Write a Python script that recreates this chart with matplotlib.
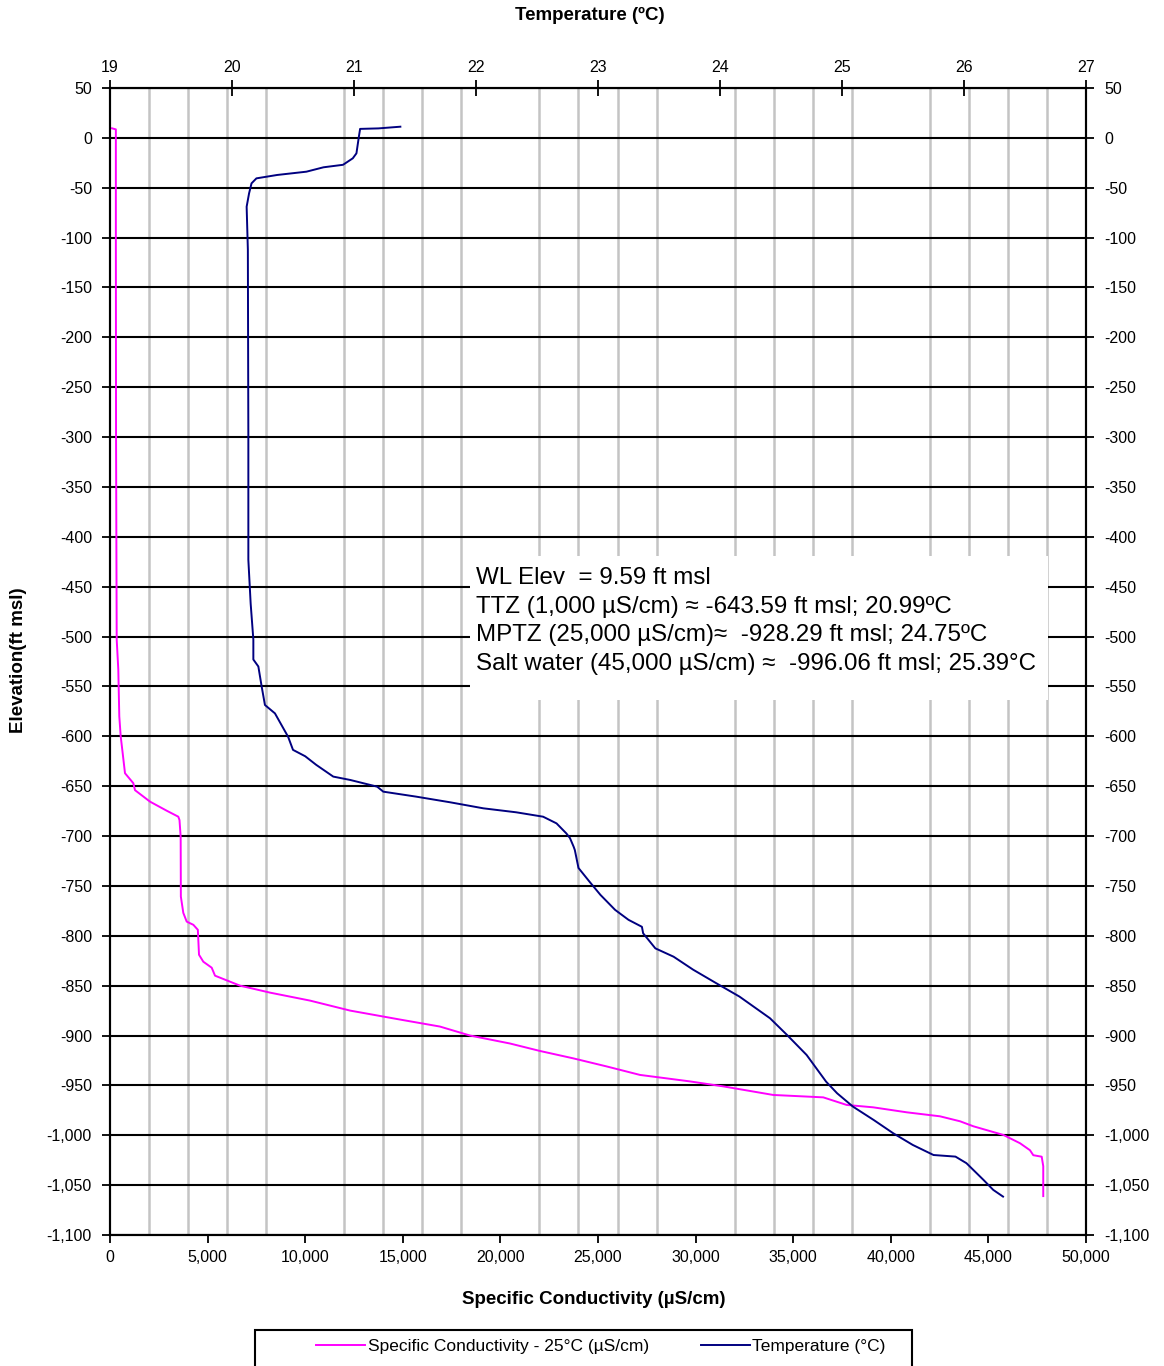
import numpy as np
import matplotlib
matplotlib.use("Agg")
import matplotlib.pyplot as plt
from matplotlib.ticker import MultipleLocator, FuncFormatter
from matplotlib.patches import Rectangle

plt.rcParams['font.family'] = ['Liberation Sans', 'DejaVu Sans']

# specific conductivity profile (uS/cm vs ft msl)
cond_elev = np.array([9.6, 8.5, -100, -300, -503, -533, -580, -600, -617, -637, -647, -654,
                      -665.5, -674.6, -680.6, -684, -700.6, -760.7, -777, -785.8, -789, -794,
                      -819, -826, -832, -840, -850, -857, -865, -875, -884, -891, -900, -908,
                      -915.5, -922.9, -931, -939.5, -946, -951, -959.6, -962, -969.6, -972,
                      -977, -981, -986, -991, -999.7, -1008, -1015, -1020, -1021.5, -1031, -1061])
cond_val = np.array([100, 300, 300, 310, 343, 425, 476, 548, 650, 768, 1194, 1281,
                     2049, 2905, 3499, 3560, 3620, 3630, 3755, 3930, 4270, 4500,
                     4560, 4780, 5210, 5380, 6660, 8200, 10250, 12300, 14860, 16900, 18440, 20490,
                     22030, 23735, 25445, 27150, 29710, 31420, 33980, 36540, 37740, 39100,
                     40820, 42520, 43550, 44230, 45770, 46620, 47130, 47300, 47730, 47810, 47810])

# temperature profile (deg C vs ft msl)
temp_elev = np.array([11.2, 9.5, 9.0, 1.2, -15.5, -20.5, -27, -29.5, -33.9, -37.2, -40.6, -45.6,
                      -55.6, -69, -112, -300, -423, -467, -503, -523, -530, -550, -568.6, -577,
                      -600.5, -613.6, -620, -628.6, -640.4, -643.8, -650.5, -655.5, -660.5, -666.2,
                      -672.2, -676.2, -680.6, -687.3, -697.3, -702, -710.6, -714, -732, -745.7,
                      -759, -774, -784, -791, -797.5, -812.6, -821, -834, -847.6, -861, -882.7,
                      -899.5, -919.5, -946.3, -957.9, -971.3, -984.7, -998, -1009.7, -1019.8,
                      -1021.4, -1028, -1044.8, -1054.8, -1061.5])
temp_val = np.array([21.38, 21.20, 21.05, 21.04, 21.02, 20.99, 20.91, 20.75, 20.61, 20.37, 20.20, 20.16,
                     20.14, 20.12, 20.13, 20.134, 20.134, 20.153, 20.175, 20.175, 20.216, 20.243, 20.27, 20.352,
                     20.46, 20.50, 20.60, 20.69, 20.83, 20.97, 21.19, 21.24, 21.51, 21.79,
                     22.06, 22.33, 22.55, 22.66, 22.74, 22.77, 22.80, 22.81, 22.84, 22.93,
                     23.02, 23.14, 23.25, 23.36, 23.37, 23.47, 23.62, 23.78, 23.97, 24.16, 24.41,
                     24.55, 24.71, 24.87, 24.96, 25.09, 25.26, 25.42, 25.58, 25.75,
                     25.93, 26.02, 26.16, 26.24, 26.32])

notes = ["WL Elev  = 9.59 ft msl",
         "TTZ (1,000 \u00b5S/cm) \u2248 -643.59 ft msl; 20.99\u00baC",
         "MPTZ (25,000 \u00b5S/cm)\u2248  -928.29 ft msl; 24.75\u00baC",
         "Salt water (45,000 \u00b5S/cm) \u2248  -996.06 ft msl; 25.39\u00b0C"]

comma = FuncFormatter(lambda v, p: f"{v:,.0f}")
TICK_FS = 11.5
TITLE_FS = 13.5

fig = plt.figure(figsize=(11.64, 13.66), dpi=100)
ax = fig.add_axes([110/1164, 1 - 1235/1366, 976/1164, 1147/1366])

ax.set_xlim(0, 50000)
ax.set_ylim(-1100, 50)
ax.xaxis.set_major_locator(MultipleLocator(5000))
ax.xaxis.set_minor_locator(MultipleLocator(2000))
ax.yaxis.set_major_locator(MultipleLocator(50))
ax.xaxis.set_major_formatter(comma)
ax.yaxis.set_major_formatter(comma)
ax.set_axisbelow(True)
ax.grid(which='minor', axis='x', color='#c4c4c4', lw=1.8)
ax.grid(which='major', axis='y', color='black', lw=1.5)
ax.tick_params(axis='x', which='major', direction='out', length=6, width=1.3, labelsize=TICK_FS, pad=5)
ax.tick_params(axis='x', which='minor', length=0)
ax.tick_params(axis='y', direction='inout', length=12, width=1.3, labelsize=TICK_FS, pad=7,
               left=True, right=True, labelleft=True, labelright=True)
for s in ax.spines.values():
    s.set_linewidth(1.5)

ax.plot(cond_val, cond_elev, color='#ff00ff', lw=1.4, zorder=3,
        label='Specific Conductivity - 25\u00b0C (\u00b5S/cm)')

ax2 = ax.twiny()
ax2.set_xlim(19, 27)
ax2.xaxis.set_major_locator(MultipleLocator(1))
ax2.tick_params(axis='x', direction='inout', length=12, width=1.3, labelsize=TICK_FS, pad=3)
ax2.plot(temp_val, temp_elev, color='#000080', lw=1.4, zorder=3, label='Temperature (\u00b0C)')
for s in ax2.spines.values():
    s.set_linewidth(1.5)

# annotation box (white, covers grid)
ax.add_patch(Rectangle((0.369, 0.4664), 0.592, 0.1256, transform=ax.transAxes,
                       facecolor='white', edgecolor='none', zorder=1))
for i, line in enumerate(notes):
    ax.text(0.375, 0.5727 - i * 0.0249, line, transform=ax.transAxes, fontsize=17.4,
            va='center', ha='left', zorder=4)

fig.text(590/1164, 1 - 15/1366, 'Temperature (\u00baC)', ha='center', va='center',
         fontsize=TITLE_FS, fontweight='bold')
fig.text(594/1164, 1 - 1300/1366, 'Specific Conductivity (\u00b5S/cm)', ha='center', va='center',
         fontsize=TITLE_FS, fontweight='bold')
fig.text(19/1164, 1 - 660/1366, 'Elevation(ft msl)', ha='center', va='center', rotation=90,
         fontsize=TITLE_FS, fontweight='bold')

h1, l1 = ax.get_legend_handles_labels()
h2, l2 = ax2.get_legend_handles_labels()
leg = fig.legend(h1 + h2, l1 + l2, loc='upper center', bbox_to_anchor=(601/1164, 1 - 1339/1366),
                 ncol=2, frameon=False, fontsize=12.5, handlelength=2.8, handletextpad=0.15,
                 columnspacing=3.0, borderpad=0, borderaxespad=0)
# legend frame runs off the bottom of the figure, as in the original
fig.patches.append(Rectangle((255/1164, -0.02), 657/1164, 36/1366 + 0.02, transform=fig.transFigure,
                             fill=False, edgecolor='black', lw=1.5))

fig.savefig('out.png', dpi=100)
